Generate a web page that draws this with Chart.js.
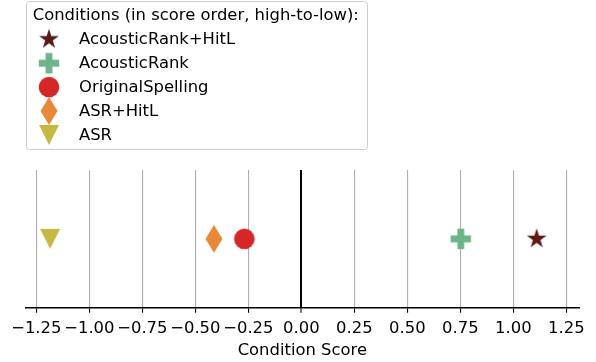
<!DOCTYPE html>
<html>
<head>
<meta charset="utf-8">
<script src="https://cdn.jsdelivr.net/npm/chart.js@4"></script>
<style>
  html, body { margin: 0; padding: 0; background: #fff; }
  #wrap { width: 596px; height: 362px; }
</style>
</head>
<body>
<div id="wrap"><canvas id="scoreChart" width="596" height="362"></canvas></div>
<script>
const conditions = ['AcousticRank+HitL', 'AcousticRank', 'OriginalSpelling', 'ASR+HitL', 'ASR'];
const scores = [1.110, 0.752, -0.269, -0.412, -1.185];
const colors = ['#5c1a18', '#6cb589', '#d62728', '#e8893a', '#c5b944'];
const markers = ['star', 'plus', 'circle', 'diamond', 'triangleDown'];
const tickValues = [-1.25, -1.0, -0.75, -0.5, -0.25, 0, 0.25, 0.5, 0.75, 1.0, 1.25];
const legendTitle = 'Conditions (in score order, high-to-low):';
const axisTitle = 'Condition Score';

const FONT = '"DejaVu Sans", sans-serif';
const FONT_SIZE = 16.4;

// marcadores no estilo matplotlib, desenhados num canvas pequeno
function makeMarker(kind, color) {
  const c = document.createElement('canvas');
  c.width = 32;
  c.height = 32;
  const g = c.getContext('2d');
  g.translate(16, 16);
  g.fillStyle = color;
  g.beginPath();
  let pts = [];
  if (kind === 'star') {
    const R = 10.4, r = R * 0.381966;
    for (let i = 0; i < 10; i++) {
      const a = -Math.PI / 2 + i * Math.PI / 5;
      const rad = i % 2 ? r : R;
      pts.push([rad * Math.cos(a), rad * Math.sin(a)]);
    }
  } else if (kind === 'plus') {
    const s = 10.2, t = s / 3;
    pts = [[-t, -s], [t, -s], [t, -t], [s, -t], [s, t], [t, t], [t, s], [-t, s], [-t, t], [-s, t], [-s, -t], [-t, -t]];
  } else if (kind === 'diamond') {
    pts = [[0, -14], [8.5, 0], [0, 14], [-8.5, 0]];
  } else if (kind === 'triangleDown') {
    pts = [[-10, -10], [10, -10], [0, 10]];
  }
  if (kind === 'circle') {
    g.arc(0, 0, 10.3, 0, Math.PI * 2);
  } else {
    pts.forEach((p, i) => (i ? g.lineTo(p[0], p[1]) : g.moveTo(p[0], p[1])));
  }
  g.closePath();
  g.fill();
  return c;
}

const markerImages = markers.map((m, i) => makeMarker(m, colors[i]));

const datasets = conditions.map((name, i) => ({
  label: name,
  data: [{ x: scores[i], y: 0 }],
  pointStyle: markerImages[i],
  pointRadius: 10,
  backgroundColor: colors[i],
  borderColor: colors[i],
}));

// legenda com caixa, no canto superior esquerdo
const legendBox = {
  id: 'legendBox',
  afterDraw(chart) {
    const ctx = chart.ctx;
    ctx.save();
    ctx.beginPath();
    ctx.roundRect(26.5, 1.5, 341, 148, 3);
    ctx.fillStyle = 'rgba(255,255,255,0.8)';
    ctx.fill();
    ctx.strokeStyle = '#cccccc';
    ctx.lineWidth = 1;
    ctx.stroke();

    ctx.font = FONT_SIZE + 'px ' + FONT;
    ctx.fillStyle = '#000';
    ctx.textBaseline = 'middle';
    ctx.fillText(legendTitle, 32.7, 15.5);
    conditions.forEach((name, i) => {
      const y = 39.3 + i * 23.9;
      ctx.drawImage(markerImages[i], 49 - 16, y - 16);
      ctx.fillText(name, 79, y + 0.5);
    });
    ctx.restore();
  },
};

Chart.defaults.font.family = FONT;
Chart.defaults.font.size = FONT_SIZE;
Chart.defaults.color = '#000';

new Chart(document.getElementById('scoreChart'), {
  type: 'scatter',
  data: { datasets },
  options: {
    responsive: false,
    animation: false,
    devicePixelRatio: 1,
    layout: {
      autoPadding: false,
      padding: { top: 170, left: 25.3, right: 16.7, bottom: 0 },
    },
    scales: {
      x: {
        type: 'linear',
        min: -1.302,
        max: 1.311,
        afterBuildTicks: (s) => { s.ticks = tickValues.map((v) => ({ value: v })); },
        afterFit: (s) => { s.height = 54.3; },
        grid: {
          color: (c) => (c.tick && c.tick.value === 0 ? '#000' : '#b0b0b0'),
          lineWidth: (c) => (c.tick && c.tick.value === 0 ? 2 : 1.1),
          tickColor: '#000',
          tickLength: 5,
          tickWidth: 1.1,
        },
        border: { display: true, color: '#000', width: 1.6 },
        ticks: {
          color: '#000',
          padding: 6.5,
          maxRotation: 0,
          autoSkip: false,
          callback: (v) => (v < 0 ? '\u2212' : '') + Math.abs(v).toFixed(2),
        },
        title: {
          display: true,
          text: axisTitle,
          color: '#000',
          padding: { top: 0, bottom: 1.5 },
        },
      },
      y: { display: false, min: -1, max: 1 },
    },
    plugins: {
      legend: { display: false },
      tooltip: { enabled: false },
    },
  },
  plugins: [legendBox],
});
</script>
</body>
</html>
